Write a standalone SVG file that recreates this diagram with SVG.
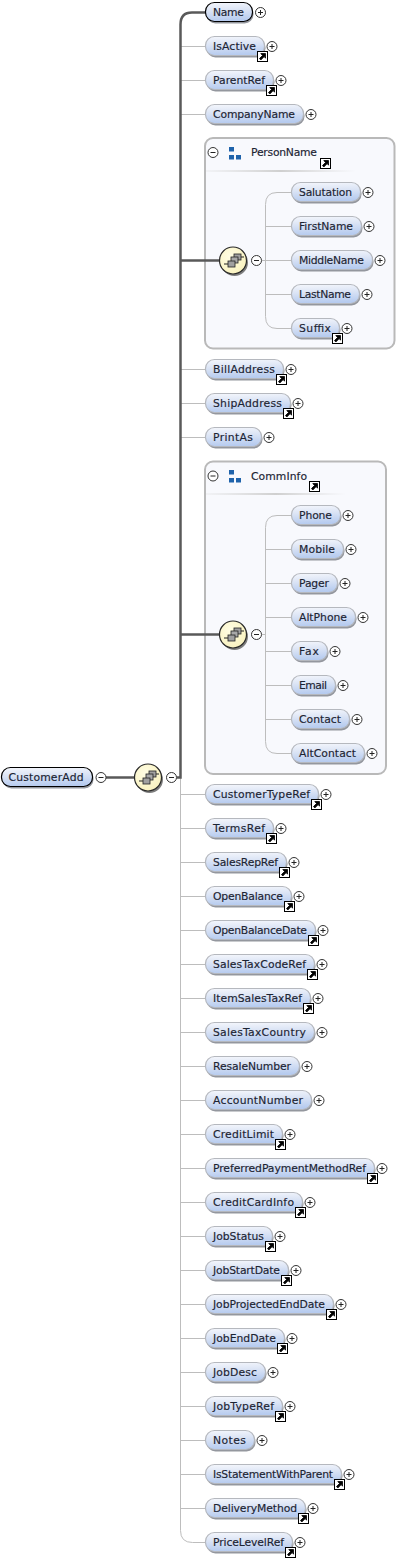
<svg xmlns="http://www.w3.org/2000/svg" width="412" height="1558" viewBox="0 0 412 1558">
<style>
text{font-family:"DejaVu Sans","Liberation Sans",sans-serif;font-size:10.8px;font-weight:400;fill:#1c2433;stroke:#1c2433;stroke-width:0.15px}
#nodes text{transform:translateY(-1px)}
.p{fill:url(#pg);stroke:#b5b8be;stroke-width:1.2;x:0.5px;y:-10px;height:19px;rx:9px;ry:9px}
.k{stroke:#000}
.s{fill:#94979e;x:1.5px;y:-8px;height:19px;rx:9px;ry:9px}
.thin{fill:none;stroke:#bdbdbd;stroke-width:1}
.thick{fill:none;stroke:#595959;stroke-width:2.5}
.box{fill:#f8f9fd;stroke:#b9b9b9;stroke-width:2}
</style>
<defs>
<linearGradient id="pg" x1="0" y1="0" x2="0.12" y2="1"><stop offset="0" stop-color="#f5f7fc"/><stop offset="0.45" stop-color="#dbe4f5"/><stop offset="1" stop-color="#b6cbef"/></linearGradient>
<linearGradient id="sep" x1="0" x2="1" y1="0" y2="0"><stop offset="0" stop-color="#d8d8d8" stop-opacity="0.2"/><stop offset="0.5" stop-color="#cfcfcf"/><stop offset="1" stop-color="#d8d8d8" stop-opacity="0"/></linearGradient>
<radialGradient id="yg" cx="0.4" cy="0.35" r="0.8"><stop offset="0" stop-color="#fffde4"/><stop offset="1" stop-color="#f8f0b8"/></radialGradient>
<g id="plus"><circle r="5" fill="#fff" stroke="#333" stroke-width="1"/><path d="M-2.5 0H2.5M0 -2.5V2.5" stroke="#222" stroke-width="1"/></g>
<g id="minus"><circle r="5" fill="#fff" stroke="#333" stroke-width="1"/><path d="M-2.5 0H2.5" stroke="#222" stroke-width="1"/></g>
<g id="ref"><rect x="0.5" y="0.5" width="10" height="10" fill="#fff" stroke="#000"/><path d="M2.5 7.500L5.500 4.500L3.800 2.500H8.500V7.200L7.200 5.600L3.800 9Z" fill="#000" stroke="#000" stroke-width="0.8"/></g>
<g id="seq"><circle cx="1.500" cy="2" r="13.500" fill="#7d7d7d"/><circle r="13.500" fill="url(#yg)" stroke="#2a2a2a" stroke-width="1.200"/><path d="M-9 3.500H-5M8 -3.500H11" stroke="#222" stroke-width="1.200"/><rect x="1" y="-6.500" width="7" height="6" fill="#a0a0a0" stroke="#222" stroke-width="0.800"/><rect x="-2" y="-3.500" width="7" height="6" fill="#a8a8a8" stroke="#222" stroke-width="0.800"/><rect x="-5" y="0.500" width="7" height="6" fill="#a0a0a0" stroke="#222" stroke-width="0.800"/></g>
<g id="tree"><rect x="0" y="0" width="5" height="4.500" fill="#1f63ab"/><rect x="0" y="8" width="5" height="4.500" fill="#1f63ab"/><rect x="7" y="8" width="5" height="4.500" fill="#1f63ab"/></g>
</defs>
<g id="boxes">
<g id="PersonName"><rect class="box" x="205" y="138" width="189.500" height="210.500" rx="8"/><use href="#minus" x="213" y="152.500"/><use href="#tree" x="229" y="147"/><text x="251" y="156" textLength="66">PersonName</text><use href="#ref" x="320" y="158"/><rect x="206" y="170" width="150" height="2" fill="url(#sep)"/></g>
<g id="CommInfo"><rect class="box" x="205" y="461.500" width="181" height="312.500" rx="8"/><use href="#minus" x="213" y="476"/><use href="#tree" x="229" y="470"/><text x="251" y="480" textLength="56">CommInfo</text><use href="#ref" x="309" y="481"/><rect x="206" y="493" width="140" height="2" fill="url(#sep)"/></g>
</g>
<g id="connectors" transform="translate(0 0.500)">
<path class="thin" transform="translate(0.500 0)" d="M180 777V1530Q180 1542 192 1542H205M180 46H205M180 80H205M180 114H205M180 369H205M180 403H205M180 437H205M180 794H205M180 828H205M180 862H205M180 896H205M180 930H205M180 964H205M180 998H205M180 1032H205M180 1066H205M180 1100H205M180 1134H205M180 1168H205M180 1202H205M180 1236H205M180 1270H205M180 1304H205M180 1338H205M180 1372H205M180 1406H205M180 1440H205M180 1474H205M180 1508H205"/>
<path class="thin" d="M291 192H277Q265.500 192 265.500 204V316Q265.500 328 277 328H291M262 260H291M265.500 226H291M265.500 294H291"/>
<path class="thin" d="M291 515H277Q265.500 515 265.500 527V741Q265.500 753 277 753H291M262 634H265.500M265.500 549H291M265.500 583H291M265.500 617H291M265.500 651H291M265.500 685H291M265.500 719H291"/>
<path class="thick" d="M106 777H134M177 777H180.500V24Q180.500 12 192 12H205M180.500 260H219M180.500 634H219"/>
</g>
<g id="nodes" transform="translate(0 0.500)">
<g id="CustomerAdd" transform="translate(1 777)"><rect class="s" width="91"/><rect class="p k" width="91"/><text x="7.500" y="4" textLength="75">CustomerAdd</text><use href="#minus" x="100"/></g>
<g id="seq-main" transform="translate(148 777)"><use href="#seq"/><use href="#minus" x="23.500"/></g>
<g id="seq-person" transform="translate(233 260)"><use href="#seq"/><use href="#minus" x="23.500"/></g>
<g id="seq-comm" transform="translate(233 634)"><use href="#seq"/><use href="#minus" x="23.500"/></g>
<g id="Name" transform="translate(205 12)"><rect class="s" width="47"/><rect class="p k" width="47"/><text x="8" y="4" textLength="31">Name</text><use href="#plus" x="55.500"/></g>
<g id="IsActive" transform="translate(205 46)"><rect class="s" width="59"/><rect class="p" width="59"/><text x="8" y="4" textLength="43">IsActive</text><use href="#plus" x="67"/><use href="#ref" x="52" y="4.500"/></g>
<g id="ParentRef" transform="translate(205 80)"><rect class="s" width="68"/><rect class="p" width="68"/><text x="8" y="4" textLength="52">ParentRef</text><use href="#plus" x="76"/><use href="#ref" x="61" y="4.500"/></g>
<g id="CompanyName" transform="translate(205 114)"><rect class="s" width="98"/><rect class="p" width="98"/><text x="8" y="4" textLength="82">CompanyName</text><use href="#plus" x="106"/></g>
<g id="Salutation" transform="translate(291 192)"><rect class="s" width="69"/><rect class="p" width="69"/><text x="8" y="4" textLength="53">Salutation</text><use href="#plus" x="77"/></g>
<g id="FirstName" transform="translate(291 226)"><rect class="s" width="70"/><rect class="p" width="70"/><text x="8" y="4" textLength="54">FirstName</text><use href="#plus" x="78"/></g>
<g id="MiddleName" transform="translate(291 260)"><rect class="s" width="81"/><rect class="p" width="81"/><text x="8" y="4" textLength="65">MiddleName</text><use href="#plus" x="89"/></g>
<g id="LastName" transform="translate(291 294)"><rect class="s" width="68"/><rect class="p" width="68"/><text x="8" y="4" textLength="52">LastName</text><use href="#plus" x="76"/></g>
<g id="Suffix" transform="translate(291 328)"><rect class="s" width="48"/><rect class="p" width="48"/><text x="8" y="4" textLength="32">Suffix</text><use href="#plus" x="56"/><use href="#ref" x="41" y="4.500"/></g>
<g id="BillAddress" transform="translate(205 369)"><rect class="s" width="78"/><rect class="p" width="78"/><text x="8" y="4" textLength="62">BillAddress</text><use href="#plus" x="86"/><use href="#ref" x="71" y="4.500"/></g>
<g id="ShipAddress" transform="translate(205 403)"><rect class="s" width="85"/><rect class="p" width="85"/><text x="8" y="4" textLength="69">ShipAddress</text><use href="#plus" x="93"/><use href="#ref" x="78" y="4.500"/></g>
<g id="PrintAs" transform="translate(205 437)"><rect class="s" width="56"/><rect class="p" width="56"/><text x="8" y="4" textLength="40">PrintAs</text><use href="#plus" x="64"/></g>
<g id="Phone" transform="translate(291 515)"><rect class="s" width="49"/><rect class="p" width="49"/><text x="8" y="4" textLength="33">Phone</text><use href="#plus" x="57"/></g>
<g id="Mobile" transform="translate(291 549)"><rect class="s" width="52"/><rect class="p" width="52"/><text x="8" y="4" textLength="36">Mobile</text><use href="#plus" x="60"/></g>
<g id="Pager" transform="translate(291 583)"><rect class="s" width="46"/><rect class="p" width="46"/><text x="8" y="4" textLength="30">Pager</text><use href="#plus" x="54"/></g>
<g id="AltPhone" transform="translate(291 617)"><rect class="s" width="64"/><rect class="p" width="64"/><text x="8" y="4" textLength="48">AltPhone</text><use href="#plus" x="72"/></g>
<g id="Fax" transform="translate(291 651)"><rect class="s" width="36"/><rect class="p" width="36"/><text x="8" y="4" textLength="20">Fax</text><use href="#plus" x="44"/></g>
<g id="Email" transform="translate(291 685)"><rect class="s" width="44"/><rect class="p" width="44"/><text x="8" y="4" textLength="28">Email</text><use href="#plus" x="52"/></g>
<g id="Contact" transform="translate(291 719)"><rect class="s" width="58"/><rect class="p" width="58"/><text x="8" y="4" textLength="42">Contact</text><use href="#plus" x="66"/></g>
<g id="AltContact" transform="translate(291 753)"><rect class="s" width="73"/><rect class="p" width="73"/><text x="8" y="4" textLength="57">AltContact</text><use href="#plus" x="81"/></g>
<g id="CustomerTypeRef" transform="translate(205 794)"><rect class="s" width="113"/><rect class="p" width="113"/><text x="8" y="4" textLength="97">CustomerTypeRef</text><use href="#plus" x="121"/><use href="#ref" x="106" y="4.500"/></g>
<g id="TermsRef" transform="translate(205 828)"><rect class="s" width="68"/><rect class="p" width="68"/><text x="8" y="4" textLength="52">TermsRef</text><use href="#plus" x="76"/><use href="#ref" x="61" y="4.500"/></g>
<g id="SalesRepRef" transform="translate(205 862)"><rect class="s" width="81"/><rect class="p" width="81"/><text x="8" y="4" textLength="65">SalesRepRef</text><use href="#plus" x="89"/><use href="#ref" x="74" y="4.500"/></g>
<g id="OpenBalance" transform="translate(205 896)"><rect class="s" width="86"/><rect class="p" width="86"/><text x="8" y="4" textLength="70">OpenBalance</text><use href="#plus" x="94"/><use href="#ref" x="79" y="4.500"/></g>
<g id="OpenBalanceDate" transform="translate(205 930)"><rect class="s" width="110"/><rect class="p" width="110"/><text x="8" y="4" textLength="94">OpenBalanceDate</text><use href="#plus" x="118"/><use href="#ref" x="103" y="4.500"/></g>
<g id="SalesTaxCodeRef" transform="translate(205 964)"><rect class="s" width="109"/><rect class="p" width="109"/><text x="8" y="4" textLength="93">SalesTaxCodeRef</text><use href="#plus" x="117"/><use href="#ref" x="102" y="4.500"/></g>
<g id="ItemSalesTaxRef" transform="translate(205 998)"><rect class="s" width="105"/><rect class="p" width="105"/><text x="8" y="4" textLength="89">ItemSalesTaxRef</text><use href="#plus" x="113"/><use href="#ref" x="98" y="4.500"/></g>
<g id="SalesTaxCountry" transform="translate(205 1032)"><rect class="s" width="109"/><rect class="p" width="109"/><text x="8" y="4" textLength="93">SalesTaxCountry</text><use href="#plus" x="117"/></g>
<g id="ResaleNumber" transform="translate(205 1066)"><rect class="s" width="94"/><rect class="p" width="94"/><text x="8" y="4" textLength="78">ResaleNumber</text><use href="#plus" x="102"/></g>
<g id="AccountNumber" transform="translate(205 1100)"><rect class="s" width="106"/><rect class="p" width="106"/><text x="8" y="4" textLength="90">AccountNumber</text><use href="#plus" x="114"/></g>
<g id="CreditLimit" transform="translate(205 1134)"><rect class="s" width="77"/><rect class="p" width="77"/><text x="8" y="4" textLength="61">CreditLimit</text><use href="#plus" x="85"/><use href="#ref" x="70" y="4.500"/></g>
<g id="PreferredPaymentMethodRef" transform="translate(205 1168)"><rect class="s" width="169"/><rect class="p" width="169"/><text x="8" y="4" textLength="153">PreferredPaymentMethodRef</text><use href="#plus" x="177"/><use href="#ref" x="162" y="4.500"/></g>
<g id="CreditCardInfo" transform="translate(205 1202)"><rect class="s" width="97"/><rect class="p" width="97"/><text x="8" y="4" textLength="81">CreditCardInfo</text><use href="#plus" x="105"/><use href="#ref" x="90" y="4.500"/></g>
<g id="JobStatus" transform="translate(205 1236)"><rect class="s" width="67"/><rect class="p" width="67"/><text x="8" y="4" textLength="51">JobStatus</text><use href="#plus" x="75"/><use href="#ref" x="60" y="4.500"/></g>
<g id="JobStartDate" transform="translate(205 1270)"><rect class="s" width="83"/><rect class="p" width="83"/><text x="8" y="4" textLength="67">JobStartDate</text><use href="#plus" x="91"/><use href="#ref" x="76" y="4.500"/></g>
<g id="JobProjectedEndDate" transform="translate(205 1304)"><rect class="s" width="128"/><rect class="p" width="128"/><text x="8" y="4" textLength="112">JobProjectedEndDate</text><use href="#plus" x="136"/><use href="#ref" x="121" y="4.500"/></g>
<g id="JobEndDate" transform="translate(205 1338)"><rect class="s" width="79"/><rect class="p" width="79"/><text x="8" y="4" textLength="63">JobEndDate</text><use href="#plus" x="87"/><use href="#ref" x="72" y="4.500"/></g>
<g id="JobDesc" transform="translate(205 1372)"><rect class="s" width="60"/><rect class="p" width="60"/><text x="8" y="4" textLength="44">JobDesc</text><use href="#plus" x="68"/></g>
<g id="JobTypeRef" transform="translate(205 1406)"><rect class="s" width="77"/><rect class="p" width="77"/><text x="8" y="4" textLength="61">JobTypeRef</text><use href="#plus" x="85"/><use href="#ref" x="70" y="4.500"/></g>
<g id="Notes" transform="translate(205 1440)"><rect class="s" width="49"/><rect class="p" width="49"/><text x="8" y="4" textLength="33">Notes</text><use href="#plus" x="57"/></g>
<g id="IsStatementWithParent" transform="translate(205 1474)"><rect class="s" width="136"/><rect class="p" width="136"/><text x="8" y="4" textLength="120">IsStatementWithParent</text><use href="#plus" x="144"/><use href="#ref" x="129" y="4.500"/></g>
<g id="DeliveryMethod" transform="translate(205 1508)"><rect class="s" width="100"/><rect class="p" width="100"/><text x="8" y="4" textLength="84">DeliveryMethod</text><use href="#plus" x="108"/><use href="#ref" x="93" y="4.500"/></g>
<g id="PriceLevelRef" transform="translate(205 1542)"><rect class="s" width="87"/><rect class="p" width="87"/><text x="8" y="4" textLength="71">PriceLevelRef</text><use href="#plus" x="95"/><use href="#ref" x="80" y="4.500"/></g>
</g>
</svg>
